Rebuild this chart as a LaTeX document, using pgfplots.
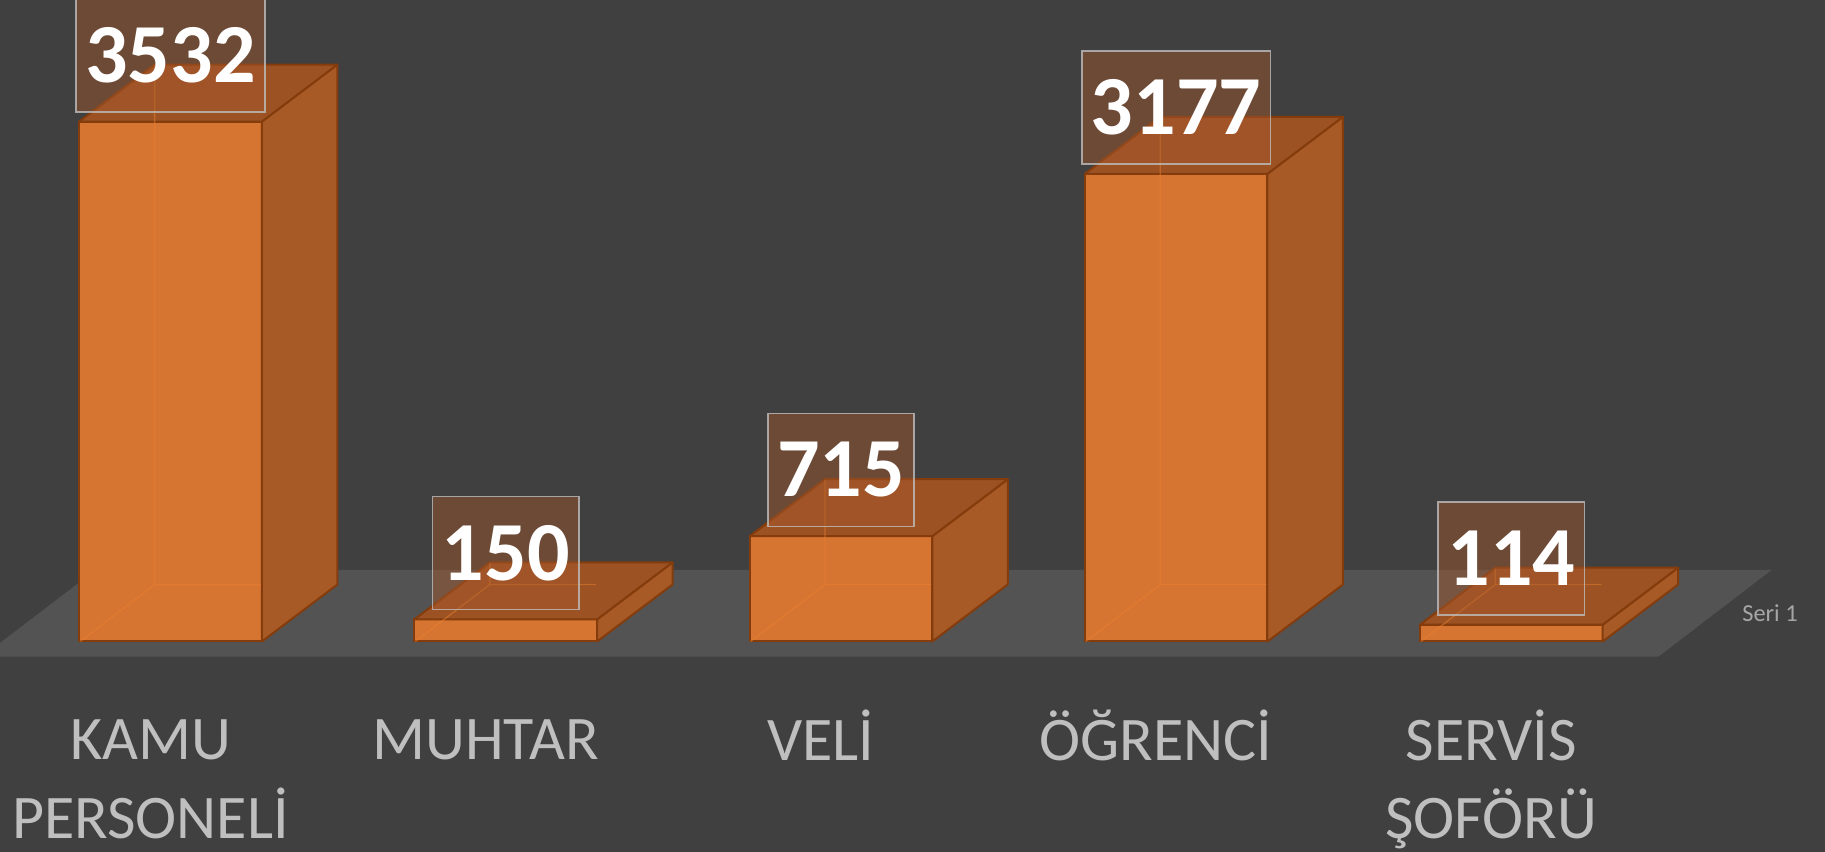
\documentclass[border=0pt]{standalone}
\usepackage{fontspec}
\setmainfont{Carlito}
\usepackage{pgfplots}
\pgfplotsset{compat=1.18}
\usepackage{pgfplotstable}
\definecolor{bg}{HTML}{404040}
\definecolor{floorc}{HTML}{535353}
\definecolor{front}{HTML}{D67432}
\definecolor{side}{HTML}{A85A26}
\definecolor{topc}{HTML}{9C5223}
\definecolor{edge}{HTML}{843C0C}
\definecolor{hidden}{HTML}{E8802F}
\definecolor{lab}{HTML}{BFBFBF}
\definecolor{seri}{HTML}{A6A6A6}
\definecolor{boxfill}{RGB}{165,88,44}

\pgfplotstableread{
x y
0 3532
1 150
2 715
3 3177
4 114
}\data

\begin{document}
\begin{tikzpicture}
\useasboundingbox (0pt,0pt) rectangle (456.25pt,-213pt);
\clip (0pt,0pt) rectangle (456.25pt,-213pt);
\fill[bg] (0pt,0pt) rectangle (456.25pt,-213pt);
\fill[floorc] (-4.5pt,-164.175pt) -- (414.6pt,-164.175pt) -- (442.9pt,-142.5pt) -- (23.9pt,-142.5pt) -- cycle;
\node[text=seri, font=\fontsize{6.1}{7}\selectfont, anchor=base] at (442.5pt,-155.4pt) {Seri 1};
\begin{axis}[
  at={(42.625pt,-160.375pt)}, anchor=origin,
  x=83.8pt, y=0.0368pt,
  xmin=-0.5, xmax=4.5, ymin=0, ymax=3600,
  clip=false,
  axis x line*=bottom, axis y line=none,
  x axis line style={draw=none},
  xtick=data, ytick=\empty,
  major tick length=0pt,
  xticklabels={{\vphantom{Ğ}KAMU\\PERSONELİ},{\vphantom{Ğ}MUHTAR},{\vphantom{Ğ}VELİ},{\vphantom{Ğ}ÖĞRENCİ},{\vphantom{Ğ}SERVİS\\ŞOFÖRÜ}},
  xticklabel style={anchor=north, inner sep=0pt, align=center, text=lab,
    font=\fontsize{15.5}{19.6}\selectfont, xshift=-5pt, yshift=-16.8pt},
]
% front faces
\addplot[ybar, bar width=45.675pt, bar shift=0pt, fill=front, draw=edge, line width=0.5pt]
  table[x=x,y=y]{\data};
% side and top faces
\addplot[scatter, only marks, mark=*, mark size=0.001pt,
  mark options={opacity=0, draw opacity=0, fill opacity=0},
  visualization depends on={\thisrow{y} \as \barv},
  scatter/@pre marker code/.code={%
    \scope
    \pgfmathsetlengthmacro{\bh}{\barv*0.0368pt}%
    \filldraw[fill=side, draw=edge, line width=0.5pt, line join=round, opacity=1]
      (22.84pt,0pt) -- (41.715pt,14.25pt) -- (41.715pt,14.25pt-\bh) -- (22.84pt,-\bh) -- cycle;
    \filldraw[fill=topc, draw=edge, line width=0.5pt, line join=round, opacity=1]
      (-22.84pt,0pt) -- (22.84pt,0pt) -- (41.715pt,14.25pt) -- (-3.965pt,14.25pt) -- cycle;
    \draw[hidden, line width=0.35pt, opacity=0.5]
      (-22.6pt,-\bh) -- (-3.965pt,14.25pt-\bh) -- (22.6pt,14.25pt-\bh)
      (-3.965pt,14.25pt-\bh) -- (-3.965pt,14pt);
    \pgfsetstrokeopacity{0}\pgfsetfillopacity{0}%
  },
  scatter/@post marker code/.code={\endscope},
] table[x=x,y=y]{\data};
% value labels
\addplot[draw=none, mark=none, nodes near coords, point meta=explicit symbolic,
  every node near coord/.append style={anchor=south, yshift=2.25pt,
    fill=boxfill, fill opacity=0.45, text opacity=1, draw=lab, draw opacity=0.8,
    line width=0.4pt, inner xsep=2.3pt, inner ysep=0pt, minimum height=28.25pt,
    text=white, font=\fontsize{21}{21}\selectfont\bfseries}]
  table[x=x,y=y,meta=y]{\data};
\end{axis}
\end{tikzpicture}
\end{document}
